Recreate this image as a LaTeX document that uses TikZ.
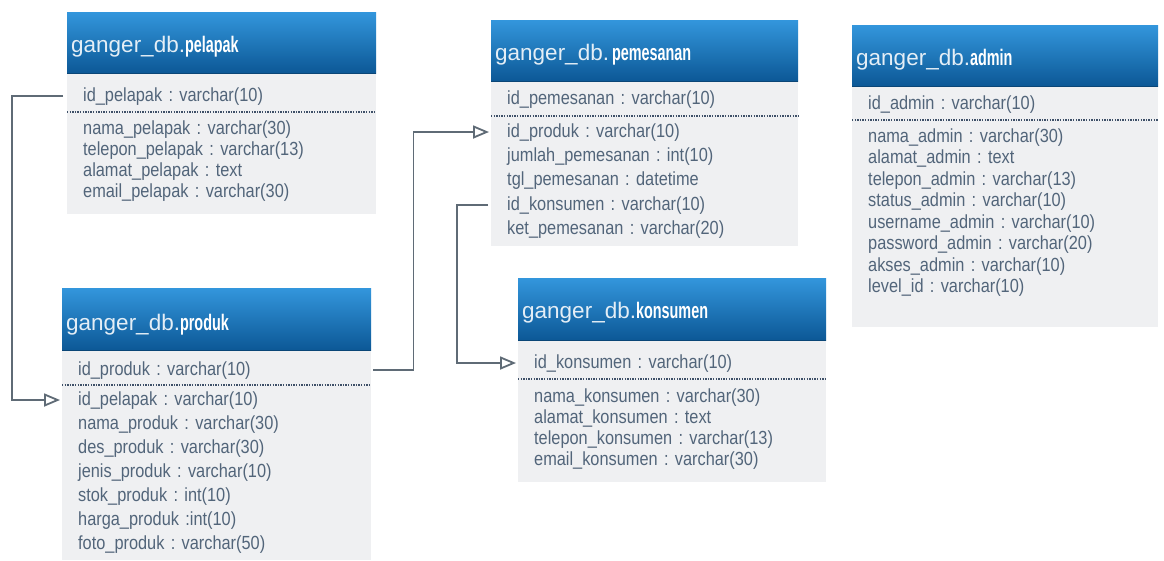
\documentclass[tikz,border=0pt]{standalone}
\usepackage{fontspec}
\setmainfont{Liberation Sans}[FakeStretch=0.86]
\newfontfamily\ttlreg{Liberation Sans}
\newfontfamily\ttlbold{Liberation Sans}[FakeStretch=0.64]
\usetikzlibrary{arrows.meta}
\frenchspacing
\definecolor{hdrtop}{HTML}{3396DC}
\definecolor{hdrbot}{HTML}{0C5896}
\definecolor{hdredge}{HTML}{0A4677}
\definecolor{bodyfill}{HTML}{EFF0F2}
\definecolor{rowtext}{HTML}{52657A}
\definecolor{ttltext}{HTML}{E4EEF6}
\definecolor{connc}{HTML}{5F6B76}
\definecolor{dotc}{HTML}{3E5068}
\newcommand{\rowfont}{\frenchspacing\fontsize{19}{22}\selectfont}
\newcommand{\ttlfont}{\ttlreg\fontsize{22.5}{26}\selectfont}
\newcommand{\tb}[1]{{\ttlbold\bfseries\color{white}#1}}
\tikzset{
  hdr/.style={anchor=north west, minimum width=#1, minimum height=62pt, inner sep=0pt,
    top color=hdrtop, bottom color=hdrbot, draw=none},
  bodybox/.style={anchor=north west, minimum width=#1, inner sep=0pt, fill=bodyfill, draw=none},
  row/.style={anchor=west, inner xsep=16pt, inner ysep=0pt, text width=#1-32pt,
    text height=14pt, text depth=4pt, font=\rowfont, text=rowtext, align=left},
  ttl/.style={anchor=base west, inner sep=0pt, font=\ttlfont, text=ttltext},
  conn/.style={draw=connc, line width=1.8pt,
    -{Triangle[open, length=16pt, width=13pt, line width=1.8pt]}},
  dotsep/.style={draw=dotc, line width=1.3pt, dash pattern=on 1.3pt off 1.3pt},
  edge/.style={draw=hdredge, line width=1pt}
}
\begin{document}
\begin{tikzpicture}[x=1pt,y=-1pt]
\useasboundingbox[fill=white] (0,0) rectangle (1164,560);

% ---------- pelapak ----------
\node[bodybox=309pt, minimum height=141pt] (pel-b) at (67,73) {};
\node[hdr=309pt, minimum height=61pt] (pel-h) at (67,12) {};
\draw[edge] (pel-h.south west) -- (pel-h.south east);
\node[ttl] (pel-t) at (71,52) {ganger\_db.\tb{pelapak}};
\node[row=309pt] (pel-id) at (67,96) {id\_pelapak : varchar(10)};
\draw[dotsep] (67,112) -- (376,112);
\node[row=309pt] (pel-1) at (67,129) {nama\_pelapak : varchar(30)};
\node[row=309pt] (pel-2) at (67,150) {telepon\_pelapak : varchar(13)};
\node[row=309pt] (pel-3) at (67,171) {alamat\_pelapak : text};
\node[row=309pt] (pel-4) at (67,192) {email\_pelapak : varchar(30)};

% ---------- produk ----------
\node[bodybox=309pt, minimum height=210pt] (pro-b) at (62,350) {};
\node[hdr=309pt] (pro-h) at (62,288) {};
\draw[edge] (pro-h.south west) -- (pro-h.south east);
\node[ttl] (pro-t) at (66,330) {ganger\_db.\tb{produk}};
\node[row=309pt] (pro-id) at (62,370) {id\_produk : varchar(10)};
\draw[dotsep] (62,385) -- (371,385);
\node[row=309pt] (pro-pel) at (62,400) {id\_pelapak : varchar(10)};
\node[row=309pt] (pro-1) at (62,424) {nama\_produk : varchar(30)};
\node[row=309pt] (pro-2) at (62,448) {des\_produk : varchar(30)};
\node[row=309pt] (pro-3) at (62,472) {jenis\_produk : varchar(10)};
\node[row=309pt] (pro-4) at (62,496) {stok\_produk : int(10)};
\node[row=309pt] (pro-5) at (62,520) {harga\_produk :int(10)};
\node[row=309pt] (pro-6) at (62,544) {foto\_produk : varchar(50)};

% ---------- pemesanan ----------
\node[bodybox=307pt, minimum height=165pt] (pem-b) at (491,81) {};
\node[hdr=307pt, minimum height=61pt] (pem-h) at (491,20) {};
\draw[edge] (pem-h.south west) -- (pem-h.south east);
\node[ttl] (pem-t) at (495,60) {ganger\_db.\hspace{3pt}\tb{pemesanan}};
\node[row=307pt] (pem-id) at (491,99) {id\_pemesanan : varchar(10)};
\draw[dotsep] (491,116) -- (798,116);
\node[row=307pt] (pem-pro) at (491,132) {id\_produk : varchar(10)};
\node[row=307pt] (pem-1) at (491,156) {jumlah\_pemesanan : int(10)};
\node[row=307pt] (pem-2) at (491,180) {tgl\_pemesanan : datetime};
\node[row=307pt] (pem-kon) at (491,205) {id\_konsumen : varchar(10)};
\node[row=307pt] (pem-3) at (491,229) {ket\_pemesanan : varchar(20)};

% ---------- konsumen ----------
\node[bodybox=308pt, minimum height=142pt] (kon-b) at (518,340) {};
\node[hdr=308pt] (kon-h) at (518,278) {};
\draw[edge] (kon-h.south west) -- (kon-h.south east);
\node[ttl] (kon-t) at (522,318) {ganger\_db.\tb{konsumen}};
\node[row=308pt] (kon-id) at (518,363) {id\_konsumen : varchar(10)};
\draw[dotsep] (518,379) -- (826,379);
\node[row=308pt] (kon-1) at (518,397) {nama\_konsumen : varchar(30)};
\node[row=308pt] (kon-2) at (518,418) {alamat\_konsumen : text};
\node[row=308pt] (kon-3) at (518,439) {telepon\_konsumen : varchar(13)};
\node[row=308pt] (kon-4) at (518,460) {email\_konsumen : varchar(30)};

% ---------- admin ----------
\node[bodybox=306pt, minimum height=241pt] (adm-b) at (852,86) {};
\node[hdr=306pt, minimum height=61pt] (adm-h) at (852,25) {};
\draw[edge] (adm-h.south west) -- (adm-h.south east);
\node[ttl] (adm-t) at (856,65) {ganger\_db.\tb{admin}};
\node[row=306pt] (adm-id) at (852,104) {id\_admin : varchar(10)};
\draw[dotsep] (852,120) -- (1158,120);
\node[row=306pt] (adm-1) at (852,137) {nama\_admin : varchar(30)};
\node[row=306pt] (adm-2) at (852,158.5) {alamat\_admin : text};
\node[row=306pt] (adm-3) at (852,180) {telepon\_admin : varchar(13)};
\node[row=306pt] (adm-4) at (852,201.5) {status\_admin : varchar(10)};
\node[row=306pt] (adm-5) at (852,223) {username\_admin : varchar(10)};
\node[row=306pt] (adm-6) at (852,244.5) {password\_admin : varchar(20)};
\node[row=306pt] (adm-7) at (852,266) {akses\_admin : varchar(10)};
\node[row=306pt] (adm-8) at (852,287.5) {level\_id : varchar(10)};

% ---------- connectors ----------
\draw[conn] ([xshift=-4pt]pel-id.west) -- ++(-51,0) |- ([xshift=-2pt]pro-pel.west);
\draw[conn] ([xshift=2pt]pro-id.east) -- ++(40,0) |- ([xshift=-2pt]pem-pro.west);
\draw[conn] ([xshift=-3pt]pem-kon.west) -- ++(-31,0) |- ([xshift=-2pt]kon-id.west);
\end{tikzpicture}
\end{document}
